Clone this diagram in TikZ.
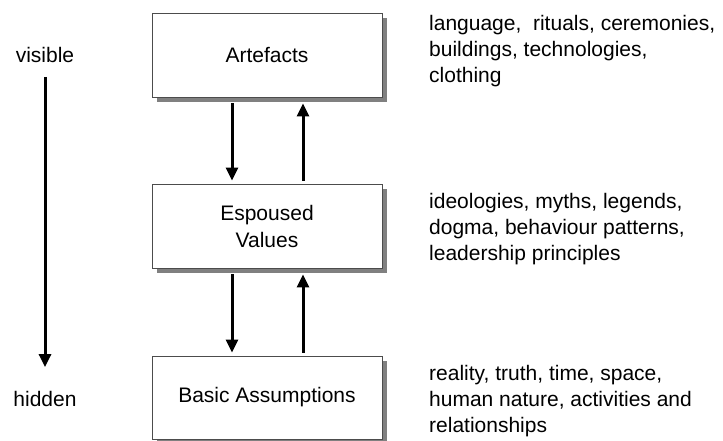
\documentclass[tikz,border=0pt]{standalone}
\usepackage{fontspec}
\setmainfont{Liberation Sans}
\usetikzlibrary{arrows.meta}
\usetikzlibrary{shadows}

\begin{document}
\begin{tikzpicture}[x=1pt,y=-1pt]
% style des noeuds
\tikzstyle{niveau} = [rectangle, draw=black!70, line width=0.9pt, fill=white, minimum width=230pt, minimum height=84pt, align=center, font=\fontsize{21}{27}\selectfont, drop shadow={shadow xshift=5pt, shadow yshift=-5pt, fill=black!50, opacity=1}]
\tikzstyle{exemples} = [anchor=north west, inner sep=0pt, align=left, font=\fontsize{21}{26}\selectfont]
\tikzstyle{repere} = [inner sep=0pt, font=\fontsize{21}{26}\selectfont]
% style des flèches
\tikzstyle{suite} = [-{Triangle[width=12pt,length=13pt]}, line width=3pt]

\useasboundingbox (0,0) rectangle (723,441);

%% placement des noeuds
\node[niveau] (artefacts) at (267,55) {Artefacts};
\node[niveau] (valeurs) at (267,226) {Espoused\\Values};
\node[niveau, minimum height=83pt] (hypotheses) at (267,397.5) {Basic Assumptions};
%
\node[repere] (visible) at (45,55) {visible};
\node[repere] (hidden) at (45,399) {hidden};
%
\node[exemples] (exArtefacts) at (429,15) {language,\ \ rituals, ceremonies,\\buildings, technologies,\\clothing};
\node[exemples] (exValeurs) at (429,193) {ideologies, myths, legends,\\dogma, behaviour patterns,\\leadership principles};
\node[exemples] (exHypotheses) at (429,365) {reality, truth, time, space,\\human nature, activities and\\relationships};

%% placement des flèches
\draw[suite] ([xshift=-35pt,yshift=-6pt]artefacts.south) -- ([xshift=-35pt,yshift=3pt]valeurs.north);
\draw[suite] ([xshift=36pt,yshift=3pt]valeurs.north) -- ([xshift=36pt,yshift=-6pt]artefacts.south);
\draw[suite] ([xshift=-35pt,yshift=-6pt]valeurs.south) -- ([xshift=-35pt,yshift=3pt]hypotheses.north);
\draw[suite] ([xshift=36pt,yshift=3pt]hypotheses.north) -- ([xshift=36pt,yshift=-6pt]valeurs.south);
\draw[suite, shorten <=14pt, shorten >=24pt] (visible.south) -- (hidden.north);
\end{tikzpicture}
\end{document}
